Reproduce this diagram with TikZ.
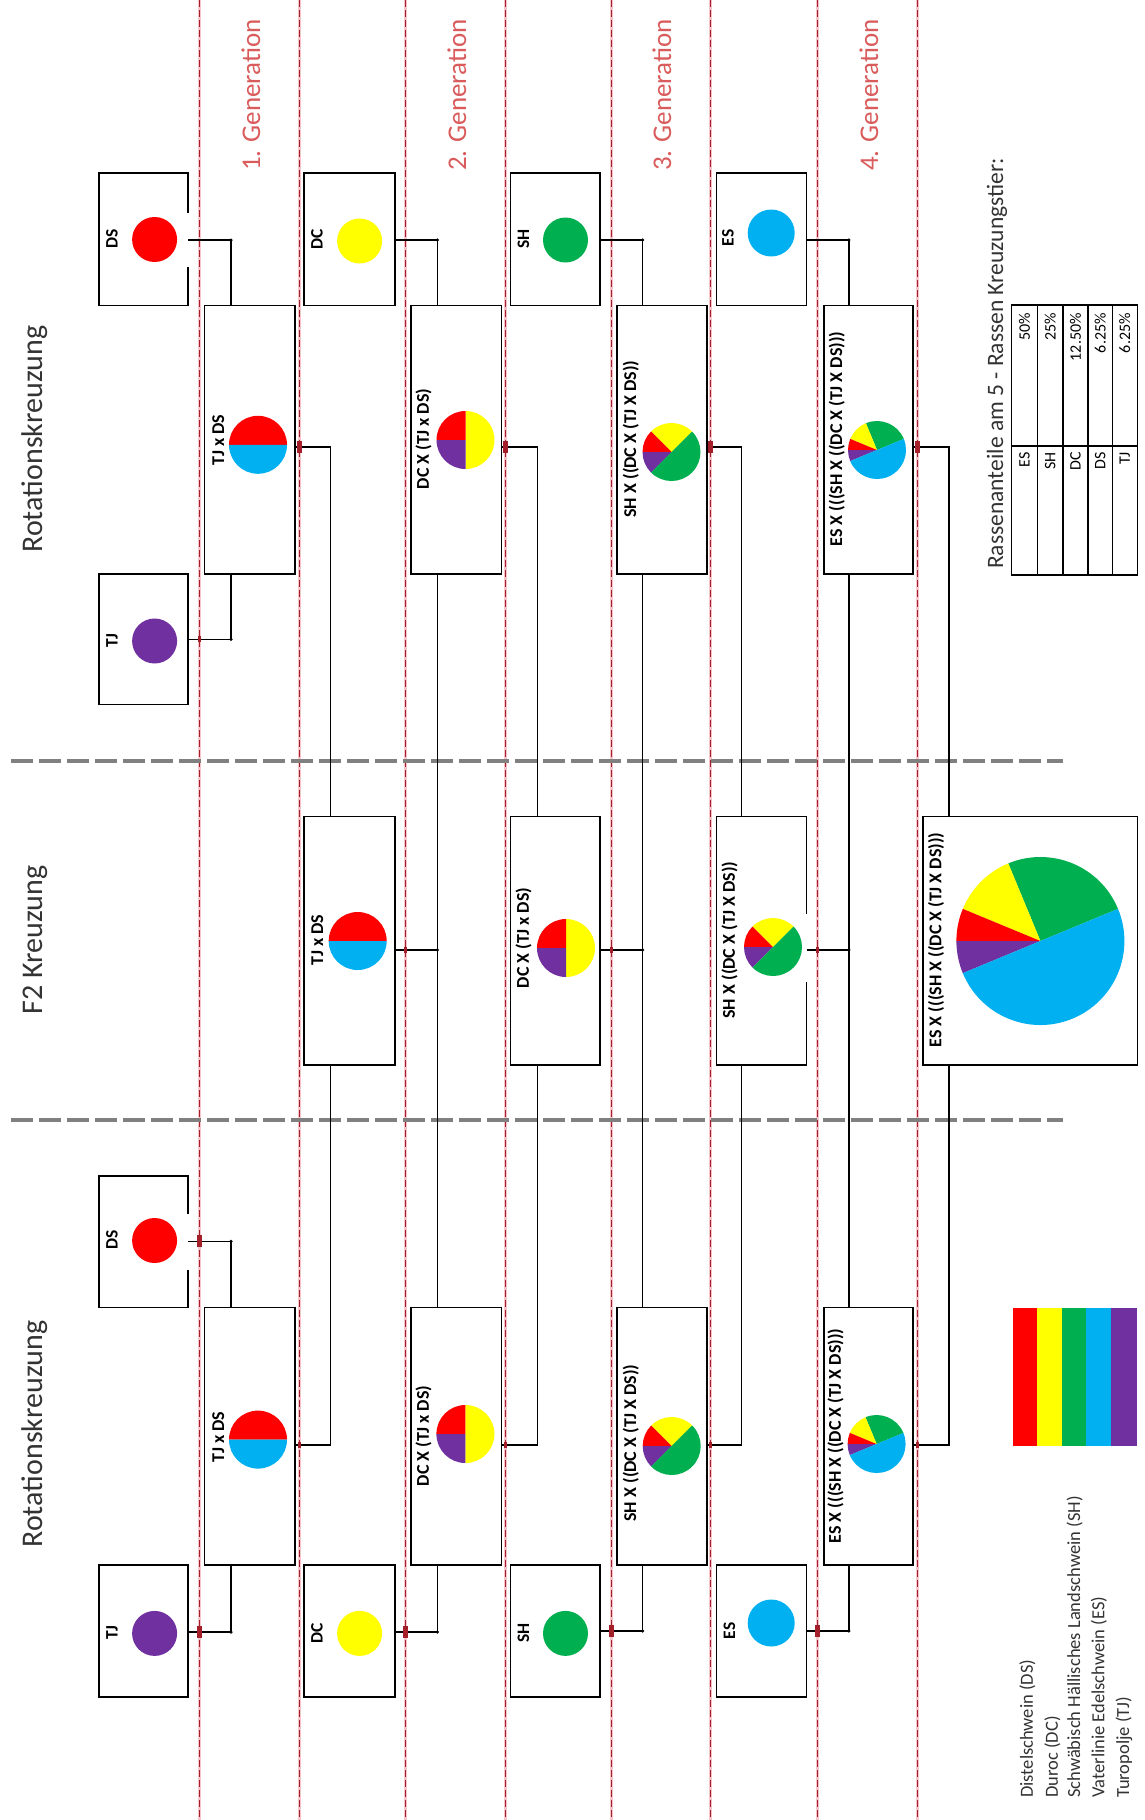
\documentclass[tikz,border=0pt]{standalone}
\usepackage{fontspec}
\setmainfont{Carlito}
\definecolor{cRed}{HTML}{FF0000}
\definecolor{cYel}{HTML}{FFFF00}
\definecolor{cGrn}{HTML}{00B050}
\definecolor{cBlu}{HTML}{00B0F0}
\definecolor{cPur}{HTML}{7030A0}
\definecolor{genred}{HTML}{D95B5B}
\definecolor{darkred}{HTML}{A3202A}
\definecolor{pinkhalo}{HTML}{F6C5CC}
\definecolor{titlegray}{HTML}{333333}
\definecolor{dashgray}{HTML}{808080}
\newcommand{\myslice}[6]{\fill[#1] (#2,#3) -- ++(#5:#4) arc[start angle=#5, end angle=#6, radius=#4] -- cycle;}
\newcommand{\pieA}[3]{\myslice{cRed}{#1}{#2}{#3}{0}{180}\myslice{cBlu}{#1}{#2}{#3}{180}{360}}
\newcommand{\pieB}[3]{\myslice{cYel}{#1}{#2}{#3}{-90}{90}\myslice{cRed}{#1}{#2}{#3}{90}{180}\myslice{cPur}{#1}{#2}{#3}{180}{270}}
\newcommand{\pieC}[3]{\myslice{cYel}{#1}{#2}{#3}{45}{135}\myslice{cRed}{#1}{#2}{#3}{135}{180}\myslice{cPur}{#1}{#2}{#3}{180}{225}\myslice{cGrn}{#1}{#2}{#3}{225}{405}}
\newcommand{\pieD}[3]{\myslice{cGrn}{#1}{#2}{#3}{22.5}{112.5}\myslice{cYel}{#1}{#2}{#3}{112.5}{157.5}\myslice{cRed}{#1}{#2}{#3}{157.5}{180}\myslice{cPur}{#1}{#2}{#3}{180}{202.5}\myslice{cBlu}{#1}{#2}{#3}{202.5}{382.5}}
\begin{document}
\begin{tikzpicture}[x=1pt,y=1pt,
  box/.style={draw=black, line width=1.6pt, inner sep=0pt, outer sep=0pt, fill=white},
  openbox/.style={draw=none, inner sep=0pt, outer sep=0pt, fill=white},
  edge/.style={line width=1.6pt, black},
  conn/.style={line width=1.4pt, black},
  dot/.style={circle, fill=cRed, inner sep=0pt, outer sep=0pt},
  lbl/.style={rotate=90, inner sep=0pt, font=\fontsize{18}{21}\selectfont\bfseries},
  plbl/.style={rotate=90, inner sep=0pt, font=\fontsize{17.5}{21}\selectfont\bfseries},
  title/.style={rotate=90, inner sep=0pt, text=titlegray, font=\fontsize{30}{36}\selectfont},
  gen/.style={rotate=90, inner sep=0pt, text=genred, font=\fontsize{27}{32}\selectfont},
  tabtxt/.style={rotate=90, inner sep=0pt, anchor=east, font=\fontsize{16}{19}\selectfont},
  legtxt/.style={rotate=90, inner sep=0pt, anchor=west, text=titlegray, font=\fontsize{18.5}{22}\selectfont},
  bigtick/.style={fill=darkred, draw=none, minimum width=5pt, minimum height=12pt, inner sep=0pt},
  smalltick/.style={fill=darkred, draw=none, minimum width=3pt, minimum height=6pt, inner sep=0pt},
  cdot/.style={circle, fill=black, inner sep=0pt, minimum size=3.5pt}
]
\useasboundingbox (0,0) rectangle (1144,-1820);
\fill[white] (0,0) rectangle (1144,-1820);

% red dashed generation lines
\foreach \xx in {199.8,299.7,405.8,505.7,611.4,710.8,817,917.5} {
  \draw[pinkhalo, line width=3pt] (\xx,0) -- (\xx,-1820);
  \draw[darkred, line width=0.9pt, dash pattern=on 7pt off 3pt] (\xx,0) -- (\xx,-1820);
}
% gray section separators
\draw[dashgray, line width=4pt, dash pattern=on 22pt off 6pt] (11,-760.7) -- (1063,-760.7);
\draw[dashgray, line width=4pt, dash pattern=on 22pt off 6pt] (11,-1120.4) -- (1063,-1120.4);

% titles
\node[title] (t1) at (35,-439) {Rotationskreuzung};
\node[title] (t2) at (35,-940) {F2 Kreuzung};
\node[title] (t3) at (35,-1434) {Rotationskreuzung};
\node[gen] (gl1) at (251,-95) {1. Generation};
\node[gen] (gl2) at (457,-95) {2. Generation};
\node[gen] (gl3) at (662,-95) {3. Generation};
\node[gen] (gl4) at (869,-95) {4. Generation};

% ---------- top section boxes ----------
\node[openbox, minimum width=89pt, minimum height=132.1pt] (pDSt) at (143.5,-239.25) {};
\draw[edge] (pDSt.east |- 0,-212.7) -- (pDSt.north east) -- (pDSt.north west) -- (pDSt.south west) -- (pDSt.south east) -- (pDSt.east |- 0,-266.7);
\node[box, minimum width=91pt, minimum height=132.1pt] (pDCt) at (349.5,-239.25) {};
\node[box, minimum width=89.7pt, minimum height=132.1pt] (pSHt) at (555.35,-239.25) {};
\node[box, minimum width=90.2pt, minimum height=132.1pt] (pESt) at (761.5,-239.25) {};
\node[box, minimum width=89pt, minimum height=130.2pt] (pTJt) at (143.5,-639.2) {};
\node[box, minimum width=90.4pt, minimum height=268.8pt] (g1t) at (249.8,-439.7) {};
\node[box, minimum width=90.6pt, minimum height=268.8pt] (g2t) at (456,-439.7) {};
\node[box, minimum width=90pt, minimum height=268.8pt] (g3t) at (662,-439.7) {};
\node[box, minimum width=89.3pt, minimum height=268.8pt] (g4t) at (868.35,-439.7) {};

% ---------- F2 section boxes ----------
\node[box, minimum width=91pt, minimum height=248.5pt] (f1) at (349.5,-940.75) {};
\node[box, minimum width=89.7pt, minimum height=248.5pt] (f2) at (555.35,-940.75) {};
\node[openbox, minimum width=90.2pt, minimum height=248.5pt] (f3) at (761.5,-940.75) {};
\draw[edge] (f3.east |- 0,-914) -- (f3.north east) -- (f3.north west) -- (f3.south west) -- (f3.south east) -- (f3.east |- 0,-982);
\node[box, minimum width=214.3pt, minimum height=248.5pt] (f4) at (1030.15,-940.75) {};

% ---------- bottom section boxes ----------
\node[openbox, minimum width=89pt, minimum height=131.7pt] (pDSb) at (143.5,-1241.65) {};
\draw[edge] (pDSb.east |- 0,-1213.75) -- (pDSb.north east) -- (pDSb.north west) -- (pDSb.south west) -- (pDSb.south east) -- (pDSb.east |- 0,-1269.6);
\node[box, minimum width=89pt, minimum height=131.8pt] (pTJb) at (143.5,-1630.9) {};
\node[box, minimum width=91pt, minimum height=131.8pt] (pDCb) at (349.5,-1630.9) {};
\node[box, minimum width=89.7pt, minimum height=131.8pt] (pSHb) at (555.35,-1630.9) {};
\node[box, minimum width=90.2pt, minimum height=131.8pt] (pESb) at (761.5,-1630.9) {};
\node[box, minimum width=90.4pt, minimum height=257.5pt] (g1b) at (249.8,-1436.25) {};
\node[box, minimum width=90.6pt, minimum height=257.5pt] (g2b) at (456,-1436.25) {};
\node[box, minimum width=90pt, minimum height=257.5pt] (g3b) at (662,-1436.25) {};
\node[box, minimum width=89.3pt, minimum height=257.5pt] (g4b) at (868.35,-1436.25) {};

% ---------- parent circles ----------
\node[dot, fill=cRed, minimum size=45pt] (cDSt) at (154.6,-239.5) {};
\node[dot, fill=cYel, minimum size=45pt] (cDCt) at (359.6,-241) {};
\node[dot, fill=cGrn, minimum size=45pt] (cSHt) at (565.5,-240) {};
\node[dot, fill=cBlu, minimum size=47pt] (cESt) at (771.2,-233) {};
\node[dot, fill=cPur, minimum size=45pt] (cTJt) at (154.6,-641) {};
\node[dot, fill=cRed, minimum size=45pt] (cDSb) at (154.6,-1240.5) {};
\node[dot, fill=cPur, minimum size=45pt] (cTJb) at (154.6,-1633.4) {};
\node[dot, fill=cYel, minimum size=45pt] (cDCb) at (359.6,-1633.4) {};
\node[dot, fill=cGrn, minimum size=45pt] (cSHb) at (565.5,-1633.4) {};
\node[dot, fill=cBlu, minimum size=47pt] (cESb) at (771.2,-1623) {};

% parent labels
\node[plbl] (lDSt) at (112,-239) {DS};
\node[plbl] (lDCt) at (317,-239) {DC};
\node[plbl] (lSHt) at (523.5,-239) {SH};
\node[plbl] (lESt) at (728,-238) {ES};
\node[plbl] (lTJt) at (112,-641) {TJ};
\node[plbl] (lDSb) at (112,-1240) {DS};
\node[plbl] (lTJb) at (112,-1633) {TJ};
\node[plbl] (lDCb) at (317,-1633) {DC};
\node[plbl] (lSHb) at (523.5,-1633) {SH};
\node[plbl] (lESb) at (729.5,-1631) {ES};

% ---------- pies ----------
\pieA{258}{-444.8}{29}
\pieB{465.5}{-440}{29}
\pieC{671.5}{-452}{29}
\pieD{877}{-450}{29}
\pieA{357.7}{-941}{29}
\pieB{566}{-948}{29}
\pieC{773}{-947}{29}
\pieD{1040.4}{-941}{84}
\pieA{258}{-1439.6}{29}
\pieB{465.4}{-1434}{29}
\pieC{671.7}{-1446}{29}
\pieD{876.6}{-1444}{29}

% ---------- cross labels ----------
\node[lbl] (lg1t) at (218.3,-440) {TJ x DS};
\node[lbl] (lg2t) at (423.6,-439) {DC X (TJ x DS)};
\node[lbl] (lg3t) at (630.8,-439) {SH X ((DC X (TJ X DS))};
\node[lbl] (lg4t) at (836.7,-439) {ES X (((SH X ((DC X (TJ X DS)))};
\node[lbl] (lf1) at (317.4,-940) {TJ x DS};
\node[lbl] (lf2) at (523.5,-938) {DC X (TJ x DS)};
\node[lbl] (lf3) at (729.5,-940) {SH X ((DC X (TJ X DS))};
\node[lbl] (lf4) at (936,-940) {ES X (((SH X ((DC X (TJ X DS)))};
\node[lbl] (lg1b) at (218.3,-1437) {TJ x DS};
\node[lbl] (lg2b) at (423.6,-1436) {DC X (TJ x DS)};
\node[lbl] (lg3b) at (630.8,-1443) {SH X ((DC X (TJ X DS))};
\node[lbl] (lg4b) at (835.6,-1436) {ES X (((SH X ((DC X (TJ X DS)))};

% ---------- connectors ----------
\coordinate (kDSt) at (231,-240);
\coordinate (kDCt) at (437.3,-240);
\coordinate (kSHt) at (642.7,-240);
\coordinate (kESt) at (848.8,-240);
\coordinate (kTJt) at (231,-639.3);
\draw[conn] (pDSt.east |- kDSt) -- (kDSt) -- (kDSt |- g1t.north);
\draw[conn] (pDCt.east |- kDCt) -- (kDCt) -- (kDCt |- g2t.north);
\draw[conn] (pSHt.east |- kSHt) -- (kSHt) -- (kSHt |- g3t.north);
\draw[conn] (pESt.east |- kESt) -- (kESt) -- (kESt |- g4t.north);
\draw[conn] (pTJt.east |- kTJt) -- (kTJt) -- (kTJt |- g1t.south);
\coordinate (r1t) at (330.4,-446.8); \coordinate (r1b) at (330.4,-1445);
\coordinate (r2t) at (537.2,-446.8); \coordinate (r2b) at (537.2,-1445);
\coordinate (r3t) at (741.7,-446.8); \coordinate (r3b) at (741.7,-1445);
\coordinate (r4t) at (949,-446.8);   \coordinate (r4b) at (949,-1445);
\draw[conn] (g1t.east |- r1t) -- (r1t) -- (r1t |- f1.north);
\draw[conn] (r1t |- f1.south) -- (r1b) -- (r1b -| g1b.east);
\draw[conn] (g2t.east |- r2t) -- (r2t) -- (r2t |- f2.north);
\draw[conn] (r2t |- f2.south) -- (r2b) -- (r2b -| g2b.east);
\draw[conn] (g3t.east |- r3t) -- (r3t) -- (r3t |- f3.north);
\draw[conn] (r3t |- f3.south) -- (r3b) -- (r3b -| g3b.east);
\draw[conn] (g4t.east |- r4t) -- (r4t) -- (r4t |- f4.north);
\draw[conn] (r4t |- f4.south) -- (r4b) -- (r4b -| g4b.east);
\draw[conn] (kDCt |- g2t.south) -- (kDCt |- g2b.north);
\draw[conn] (kSHt |- g3t.south) -- (kSHt |- g3b.north);
\draw[conn] (kESt |- g4t.south) -- (kESt |- g4b.north);
\coordinate (s1) at (437.3,-950);
\coordinate (s2) at (642.7,-950);
\coordinate (s3) at (848.8,-950);
\draw[conn] (f1.east |- s1) -- (s1);
\draw[conn] (f2.east |- s2) -- (s2);
\draw[conn] (f3.east |- s3) -- (s3);
\coordinate (kDSb) at (231,-1241.4);
\coordinate (kTJb) at (231,-1632);
\coordinate (kDCb) at (437.3,-1632);
\coordinate (kSHb) at (642.7,-1631);
\coordinate (kESb) at (848.8,-1631);
\draw[conn] (pDSb.east |- kDSb) -- (kDSb) -- (kDSb |- g1b.north);
\draw[conn] (pTJb.east |- kTJb) -- (kTJb) -- (kTJb |- g1b.south);
\draw[conn] (pDCb.east |- kDCb) -- (kDCb) -- (kDCb |- g2b.south);
\draw[conn] (pSHb.east |- kSHb) -- (kSHb) -- (kSHb |- g3b.south);
\draw[conn] (pESb.east |- kESb) -- (kESb) -- (kESb |- g4b.south);
\foreach \c in {kDSt,kDCt,kSHt,kESt,kTJt,s1,s2,s3,kDSb,kTJb,kDCb,kSHb,kESb}
  \node[cdot] at (\c) {};

% crossing marks on the generation lines
\node[bigtick] (m1) at (299.7,-446.8) {};
\node[bigtick] (m2) at (505.7,-446.8) {};
\node[bigtick] (m3) at (710.8,-446.8) {};
\node[bigtick] (m4) at (917.5,-446.8) {};
\node[bigtick] (m5) at (199.8,-1241.4) {};
\node[bigtick] (m6) at (199.8,-1632) {};
\node[bigtick] (m7) at (405.8,-1632) {};
\node[bigtick] (m8) at (611.4,-1631) {};
\node[bigtick] (m9) at (817,-1631) {};
\node[smalltick] (m10) at (199.8,-639.3) {};
\node[smalltick] (m11) at (405.8,-950) {};
\node[smalltick] (m12) at (611.4,-950) {};
\node[smalltick] (m13) at (817,-950) {};
\node[smalltick] (m14) at (299.7,-1445) {};
\node[smalltick] (m15) at (505.7,-1445) {};
\node[smalltick] (m16) at (710.8,-1445) {};
\node[smalltick] (m17) at (917.5,-1445) {};

% ---------- table ----------
\node[rotate=90, inner sep=0pt, text=titlegray, font=\fontsize{23.5}{28}\selectfont] (tabtitle) at (997,-363.5) {Rassenanteile am 5 - Rassen Kreuzungstier:};
\draw[line width=1.4pt] (1011.7,-305) rectangle (1137.3,-575);
\foreach \xx in {1037.3,1063,1088,1112.3} \draw[line width=1.4pt] (\xx,-305) -- (\xx,-575);
\draw[line width=1.4pt] (1011.7,-446) -- (1137.3,-446);
\node[tabtxt] (ta1) at (1024.5,-452) {ES};
\node[tabtxt] (ta2) at (1050.1,-452) {SH};
\node[tabtxt] (ta3) at (1075.5,-452) {DC};
\node[tabtxt] (ta4) at (1100.1,-452) {DS};
\node[tabtxt] (ta5) at (1124.8,-452) {TJ};
\node[tabtxt] (tb1) at (1024.5,-313) {50\%};
\node[tabtxt] (tb2) at (1050.1,-313) {25\%};
\node[tabtxt] (tb3) at (1075.5,-313) {12.50\%};
\node[tabtxt] (tb4) at (1100.1,-313) {6.25\%};
\node[tabtxt] (tb5) at (1124.8,-313) {6.25\%};

% ---------- legend ----------
\fill[cRed] (1012.5,-1307.5) rectangle (1036.7,-1446);
\fill[cYel] (1036.7,-1307.5) rectangle (1061.7,-1446);
\fill[cGrn] (1061.7,-1307.5) rectangle (1086.3,-1446);
\fill[cBlu] (1086.3,-1307.5) rectangle (1111.2,-1446);
\fill[cPur] (1111.2,-1307.5) rectangle (1137,-1446);
\node[legtxt] (lg1) at (1027.3,-1798) {Distelschwein (DS)};
\node[legtxt] (lg2) at (1052.3,-1798) {Duroc (DC)};
\node[legtxt] (lg3) at (1074.7,-1798) {Schwäbisch Hällisches Landschwein (SH)};
\node[legtxt] (lg4) at (1099,-1798) {Vaterlinie Edelschwein (ES)};
\node[legtxt] (lg5) at (1124,-1798) {Turopolje (TJ)};
\end{tikzpicture}
\end{document}
